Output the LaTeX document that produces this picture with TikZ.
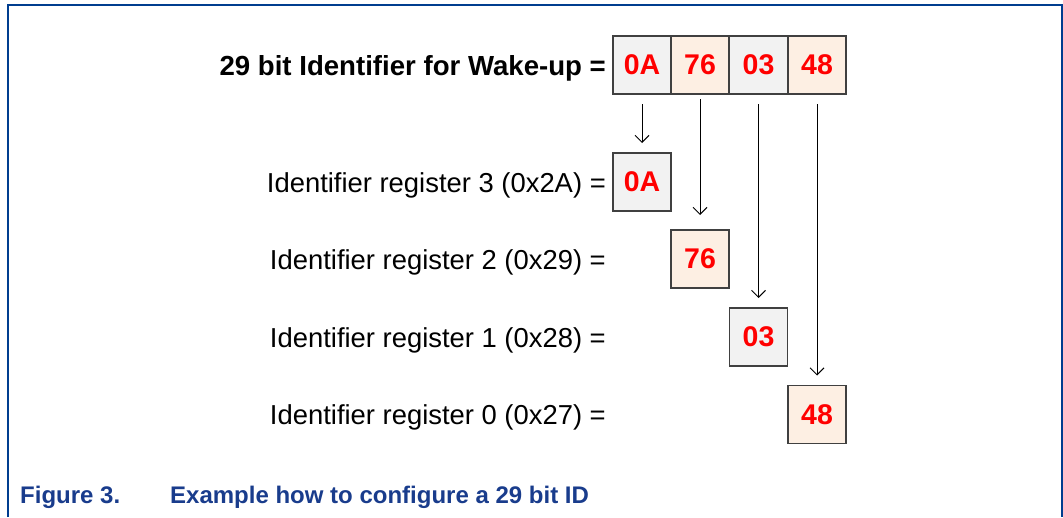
\documentclass[tikz,border=0pt]{standalone}
\usepackage{fontspec}
\setmainfont{Liberation Sans}
\usetikzlibrary{arrows.meta}
\definecolor{frameblue}{RGB}{0,61,143}
\definecolor{capblue}{RGB}{25,60,140}
\definecolor{cellgray}{RGB}{242,242,242}
\definecolor{cellpeach}{RGB}{253,239,227}
\definecolor{cellborder}{RGB}{64,64,64}
\definecolor{hexred}{RGB}{255,0,0}
\tikzset{
  x=1pt, y=-1pt,
  cell/.style={draw=cellborder, line width=1.4pt, minimum width=58pt, minimum height=58pt,
    inner sep=0pt, outer sep=0pt, font=\fontsize{28.5}{33}\selectfont\bfseries, text=hexred},
  grey/.style={cell, fill=cellgray},
  peach/.style={cell, fill=cellpeach},
  label/.style={anchor=base east, inner sep=0pt, font=\fontsize{27.4}{32}\selectfont},
  link/.style={line width=1pt, -{Straight Barb[length=7pt,width=14pt]}},
  caption/.style={anchor=base west, inner sep=0pt, text=capblue,
    font=\fontsize{24}{28}\selectfont\bfseries}
}
\begin{document}
\begin{tikzpicture}
\useasboundingbox (0,0) rectangle (1063,517);
% frame
\draw[frameblue, line width=2pt] (8,517) -- (8,5) -- (1061.5,5) -- (1061.5,517);

% identifier bytes
\node[grey]  (t0) at (642,65) {0A};
\node[peach] (t1) at (700,65) {76};
\node[grey]  (t2) at (758.5,65) {03};
\node[peach] (t3) at (817,65) {48};
\node[label, font=\fontsize{27.6}{32}\selectfont\bfseries] (title) at (606,75) {29 bit Identifier for Wake-up =};

% register values
\node[grey]  (r3) at (642,182) {0A};
\node[peach] (r2) at (700,259) {76};
\node[grey]  (r1) at (758.5,337) {03};
\node[peach] (r0) at (817,414.5) {48};

\node[label] (l3) at (606,192) {Identifier register 3 (0x2A) =};
\node[label] (l2) at (606,269) {Identifier register 2 (0x29) =};
\node[label] (l1) at (606,347) {Identifier register 1 (0x28) =};
\node[label] (l0) at (606,424) {Identifier register 0 (0x27) =};

% byte mapping
\draw[link, shorten <=10pt, shorten >=10pt] (t0.south) -- (r3.north);
\draw[link, shorten <=5pt, shorten >=15pt] (t1.south) -- (r2.north);
\draw[link, shorten <=10pt, shorten >=10pt] (t2.south) -- (r1.north);
\draw[link, shorten <=10pt, shorten >=10pt] (t3.south) -- (r0.north);

% caption
\node[caption] (fig) at (20,503) {Figure 3.};
\node[caption] (cap) at (170,503) {Example how to configure a 29 bit ID};
\end{tikzpicture}
\end{document}
